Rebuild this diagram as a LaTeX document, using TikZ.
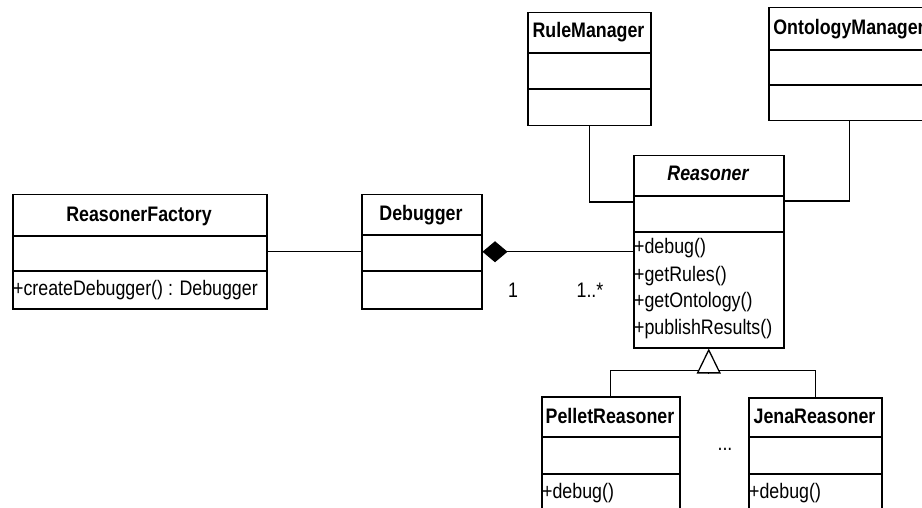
\documentclass[tikz,border=0pt]{standalone}
\usepackage{graphicx}
\usepackage{fontspec}
\setmainfont{Liberation Sans}
\usetikzlibrary{arrows.meta,calc}

% text is set a little taller than wide
\newcommand\tall[1]{\scalebox{1}[1.18]{#1}}

\tikzset{
  classbox/.style={draw, line width=1.5pt, rectangle, inner sep=0pt, anchor=north west},
  sep/.style={line width=1.3pt},
  title/.style={font=\fontsize{17.8}{20}\selectfont\bfseries, anchor=base, inner sep=0pt},
  member/.style={font=\fontsize{17.8}{20}\selectfont, anchor=base west, inner sep=0pt},
  mult/.style={font=\fontsize{17.8}{20}\selectfont, anchor=base, inner sep=0pt},
  link/.style={line width=1.3pt},
}

\begin{document}
\begin{tikzpicture}[x=1pt,y=-1pt]
\useasboundingbox (0,0) rectangle (922,508);
\clip (0,0) rectangle (922,508);

% ---- class frames ----
\node[classbox, minimum width=254pt, minimum height=114pt] (rf) at (12,194) {};
\draw[sep] (rf.north west) ++(0,42) -- ++(254,0);
\draw[sep] (rf.north west) ++(0,77) -- ++(254,0);

\node[classbox, minimum width=120pt, minimum height=114pt] (db) at (361,194) {};
\draw[sep] (db.north west) ++(0,41) -- ++(120,0);
\draw[sep] (db.north west) ++(0,77) -- ++(120,0);

\node[classbox, minimum width=150pt, minimum height=192pt] (re) at (633,155) {};
\draw[sep] (re.north west) ++(0,41) -- ++(150,0);
\draw[sep] (re.north west) ++(0,77) -- ++(150,0);

\node[classbox, minimum width=123pt, minimum height=113pt] (rm) at (527,12) {};
\draw[sep] (rm.north west) ++(0,41) -- ++(123,0);
\draw[sep] (rm.north west) ++(0,77) -- ++(123,0);

\node[classbox, minimum width=162pt, minimum height=113pt] (om) at (768,7) {};
\draw[sep] (om.north west) ++(0,43) -- ++(162,0);
\draw[sep] (om.north west) ++(0,78) -- ++(162,0);

\node[classbox, minimum width=138pt, minimum height=140pt] (pr) at (541,396) {};
\draw[sep] (pr.north west) ++(0,41) -- ++(138,0);
\draw[sep] (pr.north west) ++(0,78) -- ++(138,0);

\node[classbox, minimum width=133pt, minimum height=140pt] (jr) at (748,397) {};
\draw[sep] (jr.north west) ++(0,40) -- ++(133,0);
\draw[sep] (jr.north west) ++(0,77) -- ++(133,0);

% ---- connectors ----
\draw[link] (rf.east) -- (db.west);
\draw[link, -{Diamond[length=25pt,width=21pt]}] (re.west) -- (db.east);

\coordinate (rmjoin) at ($(re.north west)+(0,47)$);
\coordinate (omjoin) at ($(re.north east)+(0,46)$);
\draw[link] (rm.south) |- (rmjoin);
\draw[link] (om.south) |- (omjoin);

\coordinate (gen) at ($(re.south)+(0,22)$);
\draw[link] (pr.north) -- (pr.north |- gen) -- (jr.north |- gen) -- (jr.north);
\draw[link, -{Triangle[fill=white,length=25pt,width=24pt]}] ($(gen)+(0,3)$) -- (re.south);

% ---- texts ----
\node[title] (rft) at (139,222) {\tall{ReasonerFactory}};
\node[member] (rfm) at (13,295) {\tall{+createDebugger() : Debugger}};

\node[title] (dbt) at (421,221) {\tall{Debugger}};

\node[title, font=\fontsize{17.8}{20}\selectfont\bfseries\itshape] (ret) at (708,181) {\tall{Reasoner}};
\node[member] (rem1) at (634,254) {\tall{+debug()}};
\node[member] (rem2) at (634,281) {\tall{+getRules()}};
\node[member] (rem3) at (634,307) {\tall{+getOntology()}};
\node[member] (rem4) at (634,334) {\tall{+publishResults()}};

\node[title] (rmt) at (588.5,38) {\tall{RuleManager}};
\node[title] (omt) at (849,35) {\tall{OntologyManager}};

\node[title] (prt) at (610,423) {\tall{PelletReasoner}};
\node[member] (prm) at (542,498) {\tall{+debug()}};
\node[title] (jrt) at (814.5,423) {\tall{JenaReasoner}};
\node[member] (jrm) at (749,498) {\tall{+debug()}};

\node[mult] (dots) at (725,450) {\tall{...}};
\node[mult] (m1) at (513,298) {\tall{1}};
\node[mult] (m2) at (590,298) {\tall{1..*}};
\end{tikzpicture}
\end{document}
